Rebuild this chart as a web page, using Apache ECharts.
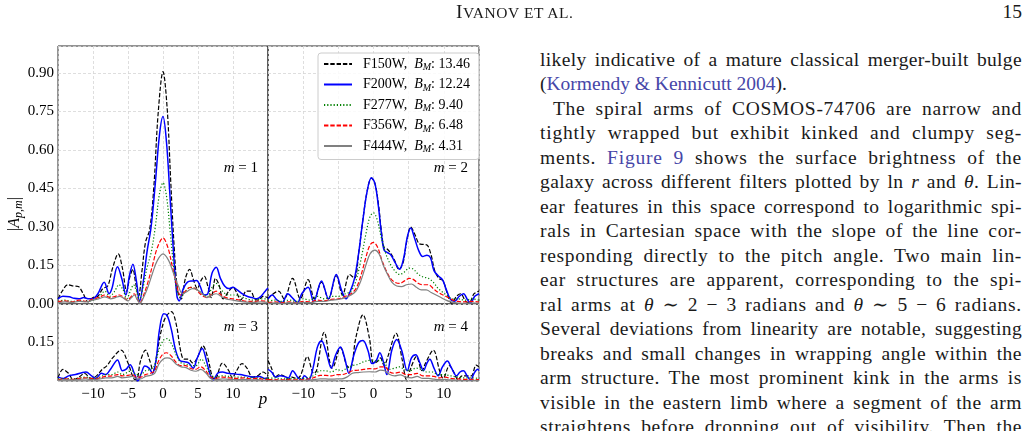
<!DOCTYPE html>
<html>
<head>
<meta charset="utf-8">
<script src="https://cdn.jsdelivr.net/npm/echarts@6/dist/echarts.min.js"></script>
<style>
  html, body { margin: 0; padding: 0; background: #fff; width: 1030px; height: 431px; overflow: hidden; }
  #chart { position: absolute; left: 0; top: 0; width: 500px; height: 431px; }
  .txt { position: absolute; font-family: 'Liberation Serif', 'DejaVu Serif', serif; color: #1a1a1a; white-space: nowrap; }
  .line { font-size: 19.5px; line-height: 24px; height: 24px; }
  .ref { color: #4646a8; }
</style>
</head>
<body>
<div id="chart"></div>
<div id="page"></div>
<script>
// ---- data ----
const FILTERS = ['F150W', 'F200W', 'F277W', 'F356W', 'F444W'];
const B_M = ['13.46', '12.24', '9.40', '6.48', '4.31'];
const M_LABELS = ['1', '2', '3', '4'];

// m = 1
const m1_F150W = [[-15,0.02],[-14.4,0.05],[-13.6,0.075],[-12.8,0.07],[-12.1,0.068],[-11.4,0.04],[-10.7,0.008],[-10,0.025],[-9.3,0.03],[-8.6,0.06],[-7.9,0.07],[-7.2,0.14],[-6.4,0.195],[-5.8,0.14],[-5.2,0.05],[-4.7,0.11],[-4.3,0.135],[-3.9,0.08],[-3.5,0.03],[-3.0,0.13],[-2.5,0.24],[-1.9,0.29],[-1.3,0.46],[-0.7,0.74],[0,0.905],[0.6,0.76],[1.1,0.48],[1.6,0.22],[2.1,0.05],[2.6,0.02],[3.2,0.1],[3.8,0.135],[4.4,0.09],[4.9,0.06],[5.4,0.09],[5.9,0.108],[6.4,0.07],[6.9,0.025],[7.5,0.1],[8.0,0.075],[8.6,0.02],[9.4,0.05],[10,0.065],[10.6,0.04],[11.1,0.015],[11.9,0.05],[12.5,0.05],[13.1,0.02],[13.6,0.015],[14.3,0.03],[15,0.025]];
const m1_F200W = [[-15,0.02],[-14.3,0.03],[-13.4,0.028],[-12.7,0.022],[-12,0.02],[-11.3,0.025],[-10.6,0.02],[-9.9,0.022],[-9.3,0.04],[-8.4,0.085],[-7.7,0.04],[-7.3,0.06],[-6.5,0.145],[-5.9,0.1],[-5.3,0.035],[-4.8,0.11],[-4.3,0.155],[-3.8,0.09],[-3.35,0.01],[-2.8,0.09],[-2.3,0.2],[-1.7,0.3],[-1.1,0.47],[-0.5,0.66],[0,0.73],[0.5,0.63],[1.0,0.42],[1.5,0.2],[2.0,0.03],[2.3,0.012],[2.9,0.06],[3.5,0.085],[4.2,0.09],[4.8,0.092],[5.3,0.07],[5.9,0.035],[6.4,0.04],[7.0,0.12],[7.6,0.143],[8.2,0.1],[8.8,0.07],[9.4,0.06],[10.0,0.065],[10.6,0.055],[11.3,0.04],[12.0,0.03],[12.7,0.025],[13.4,0.02],[14,0.03],[14.6,0.05],[15,0.062]];
const m1_F277W = [[-15,0.01],[-14,0.015],[-13,0.01],[-12,0.012],[-11,0.01],[-10,0.015],[-9.2,0.025],[-8.3,0.05],[-7.6,0.03],[-6.9,0.05],[-6.3,0.075],[-5.7,0.055],[-5.2,0.02],[-4.6,0.055],[-4.2,0.075],[-3.8,0.05],[-3.4,0.015],[-2.8,0.07],[-2.3,0.14],[-1.7,0.2],[-1.1,0.3],[-0.5,0.43],[0,0.472],[0.5,0.42],[1.0,0.29],[1.5,0.15],[2.0,0.05],[2.5,0.025],[3.2,0.05],[3.9,0.065],[4.6,0.06],[5.2,0.05],[5.8,0.035],[6.4,0.03],[7.0,0.065],[7.6,0.08],[8.2,0.06],[8.9,0.04],[9.6,0.035],[10.3,0.035],[11,0.03],[12,0.02],[13,0.015],[14,0.02],[15,0.02]];
const m1_F356W = [[-15,0.01],[-14,0.012],[-13,0.008],[-12,0.015],[-11,0.01],[-10,0.02],[-9.2,0.025],[-8.3,0.035],[-7.6,0.025],[-6.8,0.03],[-6.2,0.035],[-5.6,0.025],[-5.1,0.015],[-4.5,0.03],[-4.1,0.04],[-3.7,0.02],[-3.3,0.005],[-2.7,0.04],[-2.1,0.09],[-1.5,0.15],[-0.8,0.22],[0,0.257],[0.7,0.22],[1.3,0.15],[1.9,0.08],[2.5,0.035],[3.2,0.05],[3.9,0.065],[4.6,0.06],[5.3,0.04],[5.9,0.028],[6.4,0.025],[7.0,0.04],[7.6,0.05],[8.3,0.035],[9,0.025],[10,0.02],[11,0.015],[12,0.01],[13,0.01],[14,0.012],[15,0.01]];
const m1_F444W = [[-15,0.005],[-14,0.008],[-13,0.006],[-12,0.01],[-11,0.008],[-10,0.015],[-9.2,0.02],[-8.3,0.028],[-7.5,0.02],[-6.8,0.025],[-6.2,0.03],[-5.5,0.02],[-5,0.012],[-4.5,0.025],[-4.1,0.035],[-3.7,0.018],[-3.3,0.003],[-2.7,0.03],[-2.1,0.07],[-1.5,0.12],[-0.8,0.17],[0,0.195],[0.8,0.17],[1.5,0.12],[2.2,0.07],[2.8,0.04],[3.5,0.05],[4.2,0.06],[4.9,0.055],[5.6,0.04],[6.3,0.025],[7.0,0.035],[7.6,0.04],[8.3,0.03],[9,0.02],[10,0.015],[11,0.01],[12,0.007],[13,0.006],[14,0.008],[15,0.006]];

// m = 2
const m2_F150W = [[-15,0.02],[-14.5,0.035],[-13.5,0.05],[-12.7,0.02],[-11.5,0.1],[-10.4,0.02],[-9.3,0.095],[-8.4,0.02],[-7.4,0.085],[-6.4,0.02],[-5.3,0.11],[-4.4,0.035],[-3.4,0.115],[-2.7,0.1],[-2.1,0.2],[-1.5,0.33],[-0.9,0.44],[-0.3,0.49],[0.2,0.47],[0.7,0.39],[1.1,0.29],[1.5,0.22],[1.9,0.215],[2.4,0.2],[3.0,0.17],[3.6,0.135],[4.2,0.16],[4.7,0.24],[5.3,0.3],[5.9,0.27],[6.5,0.235],[7.1,0.232],[7.6,0.23],[8.2,0.19],[8.7,0.13],[9.3,0.1],[9.9,0.09],[10.5,0.04],[11.1,0.003],[11.8,0.03],[12.4,0.04],[13.1,0.01],[13.6,0.005],[14.3,0.04],[15,0.05]];
const m2_F200W = [[-15,0.02],[-14.4,0.035],[-13.7,0.015],[-13.0,0.005],[-12.2,0.04],[-11.4,0.02],[-10.8,0.005],[-10.2,0.04],[-9.3,0.065],[-8.5,0.01],[-7.4,0.09],[-6.4,0.02],[-5.3,0.115],[-4.5,0.05],[-3.9,0.02],[-3.3,0.05],[-2.7,0.1],[-2.1,0.2],[-1.5,0.33],[-0.9,0.44],[-0.3,0.492],[0.2,0.47],[0.7,0.38],[1.1,0.28],[1.5,0.21],[2.0,0.2],[2.5,0.19],[3.1,0.16],[3.7,0.135],[4.3,0.18],[4.8,0.26],[5.3,0.296],[5.8,0.26],[6.4,0.21],[7.0,0.185],[7.6,0.19],[8.1,0.18],[8.6,0.13],[9.2,0.11],[9.8,0.095],[10.3,0.06],[10.9,0.02],[11.5,0.01],[12.2,0.03],[12.8,0.04],[13.4,0.015],[13.8,0.005],[14.4,0.03],[15,0.04]];
const m2_F277W = [[-15,0.01],[-14,0.015],[-13,0.01],[-12,0.015],[-11,0.01],[-10,0.02],[-9,0.015],[-8,0.03],[-7,0.02],[-6,0.03],[-5,0.03],[-4,0.04],[-3.2,0.05],[-2.5,0.09],[-1.8,0.17],[-1.1,0.27],[-0.5,0.34],[0,0.355],[0.5,0.33],[1.1,0.26],[1.7,0.2],[2.3,0.16],[3.0,0.13],[3.7,0.115],[4.4,0.125],[5.1,0.14],[5.7,0.135],[6.4,0.115],[7.1,0.105],[7.8,0.1],[8.5,0.085],[9.2,0.06],[9.9,0.045],[10.6,0.03],[11.3,0.02],[12,0.02],[13,0.015],[14,0.02],[15,0.015]];
const m2_F356W = [[-15,0.005],[-14,0.008],[-13,0.005],[-12,0.008],[-11,0.005],[-10,0.01],[-9,0.008],[-8,0.015],[-7,0.012],[-6,0.018],[-5,0.02],[-4,0.03],[-3.2,0.04],[-2.5,0.06],[-1.8,0.11],[-1.1,0.18],[-0.5,0.23],[0,0.24],[0.6,0.22],[1.2,0.17],[1.8,0.13],[2.4,0.1],[3.0,0.085],[3.7,0.08],[4.4,0.09],[5.1,0.1],[5.7,0.095],[6.4,0.08],[7.1,0.075],[7.8,0.075],[8.5,0.06],[9.2,0.045],[9.9,0.035],[10.6,0.025],[11.3,0.015],[12,0.01],[13,0.008],[14,0.01],[15,0.008]];
const m2_F444W = [[-15,0.003],[-14,0.004],[-13,0.003],[-12,0.005],[-11,0.004],[-10,0.006],[-9,0.005],[-8,0.01],[-7,0.01],[-6,0.015],[-5,0.018],[-4,0.025],[-3.2,0.035],[-2.5,0.05],[-1.8,0.09],[-1.1,0.15],[-0.5,0.195],[0.2,0.21],[0.8,0.195],[1.4,0.15],[2.0,0.115],[2.6,0.085],[3.3,0.07],[4.0,0.068],[4.7,0.075],[5.4,0.078],[6.1,0.065],[6.8,0.055],[7.5,0.055],[8.2,0.045],[8.9,0.035],[9.6,0.025],[10.3,0.015],[11,0.008],[12,0.004],[13,0.003],[14,0.004],[15,0.003]];

// m = 3
const m3_F150W = [[-15,0.012],[-14.3,0.045],[-13.5,0.03],[-12.8,0.005],[-12,0.015],[-11.2,0.03],[-10.3,0.01],[-9.5,0.02],[-8.7,0.045],[-8,0.06],[-7.2,0.09],[-6,0.12],[-5.0,0.07],[-4.2,0.01],[-3.8,0.005],[-3.2,0.08],[-2.5,0.12],[-1.9,0.08],[-1.4,0.04],[-0.9,0.1],[-0.3,0.19],[0.4,0.25],[1.2,0.27],[1.9,0.22],[2.5,0.12],[3.0,0.085],[3.6,0.085],[4.3,0.07],[4.9,0.09],[5.7,0.137],[6.4,0.09],[7.0,0.02],[7.4,0.005],[8.5,0.07],[9.4,0.04],[9.9,0.012],[10.5,0.04],[11.3,0.068],[12,0.05],[12.8,0.015],[13.5,0.02],[14.3,0.035],[15,0.02]];
const m3_F200W = [[-15,0.015],[-14.2,0.01],[-13.5,0.02],[-12.5,0.025],[-11.5,0.033],[-11,0.035],[-10.2,0.02],[-9.6,0.01],[-8.8,0.03],[-8.2,0.025],[-7.4,0.05],[-6.5,0.082],[-5.8,0.04],[-5.3,0.045],[-4.7,0.063],[-4.1,0.03],[-3.6,0.0],[-3.1,0.03],[-2.6,0.058],[-2.0,0.05],[-1.5,0.03],[-1.0,0.08],[-0.5,0.2],[0.1,0.262],[0.6,0.255],[1.2,0.2],[1.8,0.12],[2.4,0.08],[3.1,0.075],[3.7,0.07],[4.3,0.05],[4.9,0.09],[5.6,0.127],[6.2,0.08],[6.8,0.02],[7.2,0.005],[7.8,0.03],[8.5,0.035],[9.3,0.03],[10.1,0.028],[11,0.025],[12,0.02],[13,0.015],[13.8,0.018],[14.5,0.01],[15,0.012]];
const m3_F277W = [[-15,0.008],[-14,0.01],[-13,0.008],[-12,0.012],[-11,0.015],[-10,0.01],[-9,0.015],[-8.2,0.025],[-7.3,0.025],[-6.5,0.035],[-5.8,0.025],[-5,0.035],[-4.5,0.04],[-3.8,0.025],[-3.2,0.025],[-2.5,0.04],[-1.8,0.045],[-1.2,0.06],[-0.6,0.12],[0.1,0.16],[0.6,0.165],[1.3,0.14],[1.9,0.1],[2.6,0.07],[3.3,0.065],[4.0,0.06],[4.7,0.06],[5.5,0.085],[6.1,0.06],[6.8,0.025],[7.5,0.015],[8.5,0.02],[9.5,0.018],[10.5,0.015],[11.5,0.015],[12.5,0.012],[13.5,0.012],[14.5,0.01],[15,0.01]];
const m3_F356W = [[-15,0.005],[-14,0.008],[-13,0.006],[-12,0.01],[-11,0.012],[-10,0.008],[-9,0.012],[-8.2,0.018],[-7.3,0.02],[-6.5,0.025],[-5.8,0.02],[-5,0.022],[-4.4,0.025],[-3.8,0.015],[-3.2,0.015],[-2.5,0.025],[-1.8,0.03],[-1.2,0.04],[-0.6,0.08],[0,0.105],[0.5,0.11],[1.1,0.1],[1.8,0.075],[2.5,0.06],[3.2,0.06],[3.9,0.05],[4.6,0.045],[5.4,0.055],[6.1,0.04],[6.8,0.015],[7.5,0.01],[8.5,0.015],[9.5,0.012],[10.5,0.01],[11.5,0.012],[12.5,0.008],[13.5,0.01],[14.5,0.006],[15,0.006]];
const m3_F444W = [[-15,0.003],[-14,0.005],[-13,0.004],[-12,0.006],[-11,0.008],[-10,0.005],[-9,0.008],[-8.2,0.012],[-7.3,0.012],[-6.5,0.018],[-5.8,0.012],[-5,0.015],[-4.4,0.018],[-3.8,0.008],[-3.2,0.008],[-2.5,0.018],[-1.8,0.022],[-1.2,0.03],[-0.6,0.065],[0,0.085],[0.6,0.09],[1.2,0.085],[1.9,0.065],[2.6,0.055],[3.3,0.052],[4.0,0.042],[4.7,0.038],[5.4,0.045],[6.1,0.032],[6.8,0.01],[7.5,0.005],[8.5,0.008],[9.5,0.006],[10.5,0.005],[11.5,0.006],[12.5,0.004],[13.5,0.005],[14.5,0.003],[15,0.003]];

// m = 4
const m4_F150W = [[-15,0.08],[-14.5,0.05],[-14,0.015],[-13.4,0.025],[-12.8,0.02],[-12.2,0.005],[-11.6,0.015],[-11,0.01],[-10.4,0.02],[-9.4,0.095],[-8.5,0.03],[-8.1,0.04],[-7.0,0.19],[-5.9,0.05],[-5.6,0.06],[-4.7,0.13],[-3.8,0.06],[-3.3,0.05],[-2.5,0.17],[-1.5,0.258],[-0.6,0.17],[0,0.07],[0.5,0.075],[1.0,0.09],[1.5,0.06],[2.1,0.1],[3.2,0.186],[4.1,0.08],[4.7,0.005],[5.3,0.05],[6.1,0.095],[6.9,0.04],[7.4,0.07],[8.5,0.12],[9.4,0.04],[9.9,0.01],[10.8,0.06],[11.5,0.03],[12,0.005],[12.6,0.02],[13.3,0.02],[13.9,0.02],[14.6,0.062],[15,0.055]];
const m4_F200W = [[-15,0.045],[-14.5,0.035],[-13.9,0.015],[-13.3,0.02],[-12.7,0.018],[-12.1,0.012],[-11.5,0.04],[-10.8,0.015],[-10.3,0.005],[-9.8,0.02],[-9.2,0.005],[-8.6,0.05],[-8.0,0.13],[-7.4,0.157],[-6.7,0.11],[-6.0,0.05],[-5.4,0.1],[-4.7,0.132],[-4.1,0.09],[-3.5,0.03],[-2.8,0.1],[-2.1,0.15],[-1.5,0.158],[-0.8,0.12],[-0.2,0.068],[0.4,0.08],[0.9,0.11],[1.4,0.075],[1.9,0.025],[2.6,0.12],[3.3,0.162],[4.0,0.12],[4.8,0.04],[5.4,0.09],[6.0,0.102],[6.6,0.07],[7.1,0.04],[7.6,0.07],[8.0,0.085],[8.6,0.05],[9.2,0.02],[9.8,0.055],[10.5,0.078],[11.1,0.05],[11.8,0.02],[12.3,0.035],[12.8,0.04],[13.3,0.02],[13.8,0.003],[14.3,0.03],[14.8,0.046],[15,0.04]];
const m4_F277W = [[-15,0.01],[-14,0.012],[-13,0.008],[-12,0.01],[-11,0.008],[-10,0.01],[-9,0.015],[-8.3,0.025],[-7.6,0.04],[-6.8,0.04],[-6,0.035],[-5.2,0.045],[-4.5,0.04],[-3.8,0.05],[-3,0.06],[-2.2,0.065],[-1.4,0.075],[-0.6,0.08],[0.2,0.078],[1.0,0.08],[1.6,0.07],[2.2,0.045],[3.0,0.05],[3.7,0.055],[4.4,0.045],[5.2,0.04],[6.0,0.05],[6.8,0.045],[7.6,0.035],[8.4,0.035],[9.2,0.025],[10,0.025],[11,0.02],[12,0.015],[13,0.012],[14,0.012],[15,0.01]];
const m4_F356W = [[-15,0.005],[-14,0.005],[-13,0.004],[-12,0.005],[-11,0.004],[-10,0.005],[-9,0.008],[-8.3,0.015],[-7.6,0.022],[-6.8,0.022],[-6,0.02],[-5.2,0.025],[-4.5,0.025],[-3.8,0.03],[-3,0.04],[-2.2,0.042],[-1.4,0.045],[-0.6,0.048],[0.2,0.047],[1.0,0.055],[1.6,0.055],[2.3,0.035],[3.0,0.03],[3.8,0.035],[4.6,0.025],[5.4,0.025],[6.2,0.03],[7.0,0.02],[7.8,0.02],[8.6,0.018],[9.4,0.012],[10.2,0.015],[11,0.01],[12,0.008],[13,0.006],[14,0.006],[15,0.005]];
const m4_F444W = [[-15,0.002],[-14,0.003],[-13,0.002],[-12,0.003],[-11,0.002],[-10,0.003],[-9,0.004],[-8.3,0.006],[-7.6,0.008],[-6.8,0.008],[-6,0.007],[-5.2,0.008],[-4.5,0.008],[-3.8,0.015],[-3,0.03],[-2.2,0.033],[-1.4,0.035],[-0.6,0.036],[0.2,0.035],[1.0,0.042],[1.6,0.04],[2.3,0.025],[3.0,0.02],[3.8,0.024],[4.6,0.015],[5.4,0.012],[6.2,0.018],[7.0,0.01],[7.8,0.01],[8.6,0.007],[9.4,0.005],[10.2,0.006],[11,0.004],[12,0.003],[13,0.002],[14,0.003],[15,0.002]];

const PANEL_DATA = [
  [m1_F150W, m1_F200W, m1_F277W, m1_F356W, m1_F444W],
  [m2_F150W, m2_F200W, m2_F277W, m2_F356W, m2_F444W],
  [m3_F150W, m3_F200W, m3_F277W, m3_F356W, m3_F444W],
  [m4_F150W, m4_F200W, m4_F277W, m4_F356W, m4_F444W],
];

// ---- page text ----
const TEXT_LINES = [
  { html: 'likely indicative of a mature classical merger-built bulge', justify: true },
  { html: '(<span class="ref">Kormendy &amp; Kennicutt 2004</span>).', justify: false },
  { html: 'The spiral arms of COSMOS-74706 are narrow and', justify: true, indent: true },
  { html: 'tightly wrapped but exhibit kinked and clumpy seg-', justify: true },
  { html: 'ments. <span class="ref">Figure 9</span> shows the surface brightness of the', justify: true },
  { html: 'galaxy across different filters plotted by ln <i>r</i> and <i>θ</i>. Lin-', justify: true },
  { html: 'ear features in this space correspond to logarithmic spi-', justify: true },
  { html: 'rals in Cartesian space with the slope of the line cor-', justify: true },
  { html: 'responding directly to the pitch angle. Two main lin-', justify: true },
  { html: 'ear structures are apparent, corresponding to the spi-', justify: true },
  { html: 'ral arms at <i>θ</i> ∼ 2 − 3 radians and <i>θ</i> ∼ 5 − 6 radians.', justify: true },
  { html: 'Several deviations from linearity are notable, suggesting', justify: true },
  { html: 'breaks and small changes in wrapping angle within the', justify: true },
  { html: 'arm structure. The most prominent kink in the arms is', justify: true },
  { html: 'visible in the eastern limb where a segment of the arm', justify: true },
  { html: 'straightens before dropping out of visibility. Then the', justify: true },
];

const SERIF = "'Liberation Serif', 'DejaVu Serif', serif";
const STYLES = [
  { color: '#000000', width: 1.2, type: [4.4, 1.9] },
  { color: '#0000ff', width: 1.5, type: 'solid' },
  { color: '#008000', width: 1.2, type: [1.2, 2.0] },
  { color: '#ff0000', width: 1.2, type: [4.4, 1.9] },
  { color: '#808080', width: 1.2, type: 'solid' },
];
const GRIDS = [
  { left: 58, top: 46, width: 210, height: 258 },
  { left: 268, top: 46, width: 211, height: 258 },
  { left: 58, top: 304, width: 210, height: 77 },
  { left: 268, top: 304, width: 211, height: 77 },
];
const LABEL_POS = [[258, 168], [468, 168], [258, 327], [468, 327]];

const gridLine = { show: true, lineStyle: { color: '#d6d6d6', width: 0.8, type: [3, 2] } };
const fmtX = v => (v < 0 ? '\u2212' + (-v) : String(v));

const chart = echarts.init(document.getElementById('chart'));

const series = [];
PANEL_DATA.forEach((sets, pi) => {
  sets.forEach((data, fi) => {
    series.push({
      name: FILTERS[fi],
      type: 'line',
      xAxisIndex: pi,
      yAxisIndex: pi,
      data: data,
      smooth: 0.35,
      symbol: 'none',
      color: STYLES[fi].color,
      lineStyle: { color: STYLES[fi].color, width: STYLES[fi].width, type: STYLES[fi].type },
      emphasis: { disabled: true },
      z: 2 + fi,
    });
  });
});

const mathRich = {
  n: { fontFamily: SERIF, fontSize: 15 },
  i: { fontFamily: SERIF, fontSize: 15, fontStyle: 'italic' },
};

const graphics = LABEL_POS.map((pos, i) => ({
  type: 'text', x: pos[0], y: pos[1], z: 50,
  style: {
    text: '{i|m}{n| = ' + M_LABELS[i] + '}', rich: mathRich,
    fill: '#000', align: 'right', verticalAlign: 'middle', fontFamily: SERIF, fontSize: 15,
  },
}));
graphics.push({
  type: 'text', x: 15, y: 214, rotation: Math.PI / 2, z: 50,
  style: {
    text: '{n||}{i|A}{s|p,m}{n||}', fill: '#000', align: 'center', verticalAlign: 'middle',
    fontFamily: SERIF, fontSize: 16,
    rich: {
      n: { fontFamily: SERIF, fontSize: 16, lineHeight: 20 },
      i: { fontFamily: SERIF, fontSize: 16, fontStyle: 'italic', lineHeight: 20 },
      s: { fontFamily: SERIF, fontSize: 12, fontStyle: 'italic', verticalAlign: 'bottom', lineHeight: 12 },
    },
  },
});
graphics.push({
  type: 'text', x: 263, y: 400, z: 50,
  style: { text: 'p', fill: '#000', align: 'center', verticalAlign: 'middle', fontFamily: SERIF, fontSize: 17, fontStyle: 'italic' },
});

chart.setOption({
  animation: false,
  textStyle: { fontFamily: SERIF },
  grid: GRIDS.map(g => Object.assign({ show: true, borderColor: '#262626', borderWidth: 1, backgroundColor: 'transparent' }, g)),
  xAxis: GRIDS.map((g, i) => ({
    type: 'value', gridIndex: i, min: -15, max: 15, interval: 5,
    axisLine: { show: false }, axisTick: { show: false },
    axisLabel: {
      show: i >= 2, fontFamily: SERIF, fontSize: 15, color: '#000', margin: 6,
      showMinLabel: false, showMaxLabel: false, formatter: fmtX,
    },
    splitLine: gridLine,
  })),
  yAxis: GRIDS.map((g, i) => ({
    type: 'value', gridIndex: i, min: 0, max: i < 2 ? 1.005 : 0.3, interval: 0.15,
    axisLine: { show: false }, axisTick: { show: false },
    axisLabel: {
      show: i % 2 === 0, fontFamily: SERIF, fontSize: 15, color: '#000', margin: 4,
      showMinLabel: i === 0, showMaxLabel: false, formatter: v => v.toFixed(2),
    },
    splitLine: gridLine,
  })),
  legend: {
    data: FILTERS, orient: 'vertical', left: 318, top: 53,
    padding: [4, 9, 5, 5], itemWidth: 28, itemHeight: 14, itemGap: 5,
    backgroundColor: 'rgba(255,255,255,0.85)', borderColor: '#cccccc', borderWidth: 1, borderRadius: 3,
    selectedMode: false, z: 40,
    itemStyle: { opacity: 0, borderWidth: 0 },
    formatter: name => '{n|' + name + ',\u2002}{i|B}{s|M}{n|: ' + B_M[FILTERS.indexOf(name)] + '}',
    textStyle: {
      padding: [0, 0, 0, 6], color: '#000',
      rich: {
        n: { fontFamily: SERIF, fontSize: 14, color: '#000', lineHeight: 17 },
        i: { fontFamily: SERIF, fontSize: 14, fontStyle: 'italic', color: '#000', lineHeight: 17 },
        s: { fontFamily: SERIF, fontSize: 10, fontStyle: 'italic', color: '#000', verticalAlign: 'bottom', lineHeight: 11 },
      },
    },
  },
  graphic: graphics,
  series: series,
});

// ---- right-hand text column ----
const page = document.getElementById('page');
const TEXT_LEFT = 540, TEXT_RIGHT = 1022, INDENT = 13, FIRST_LINE = 60.5, LINE_STEP = 24.5;

// stretch a line to the column width, half through letter spacing and half through word spacing
function fitWidth(el, target) {
  const w = el.getBoundingClientRect().width;
  const text = el.textContent;
  const spaces = (text.match(/ /g) || []).length;
  if (w < target) {
    const extra = target - w;
    const ls = 0.5 * extra / text.length;
    el.style.letterSpacing = ls + 'px';
    const w2 = el.getBoundingClientRect().width;
    if (spaces) el.style.wordSpacing = ((target - w2) / spaces) + 'px';
  } else if (w > target) {
    el.style.transformOrigin = '0 0';
    el.style.transform = 'scaleX(' + (target / w) + ')';
  }
}

TEXT_LINES.forEach((ln, i) => {
  const d = document.createElement('div');
  d.className = 'txt line';
  const x0 = TEXT_LEFT + (ln.indent ? INDENT : 0);
  d.style.left = x0 + 'px';
  d.style.top = (FIRST_LINE + i * LINE_STEP - 13) + 'px';
  d.innerHTML = ln.html;
  page.appendChild(d);
  if (ln.justify) fitWidth(d, TEXT_RIGHT - x0);
});

// running head: large initial, small capitals for the rest
const head = document.createElement('div');
head.className = 'txt';
head.style.cssText = 'line-height:24px;top:0px;font-size:15.5px;';
head.innerHTML = '<span style="font-size:19.5px">I</span>VANOV ET AL.';
page.appendChild(head);
const hw = head.getBoundingClientRect().width;
head.style.letterSpacing = ((117 - hw) / 12) + 'px';
head.style.left = (514 - 58) + 'px';

const num = document.createElement('div');
num.className = 'txt';
num.style.cssText = 'font-size:19.5px;line-height:24px;top:0px;right:8px;';
num.textContent = '15';
page.appendChild(num);
</script>
</body>
</html>
